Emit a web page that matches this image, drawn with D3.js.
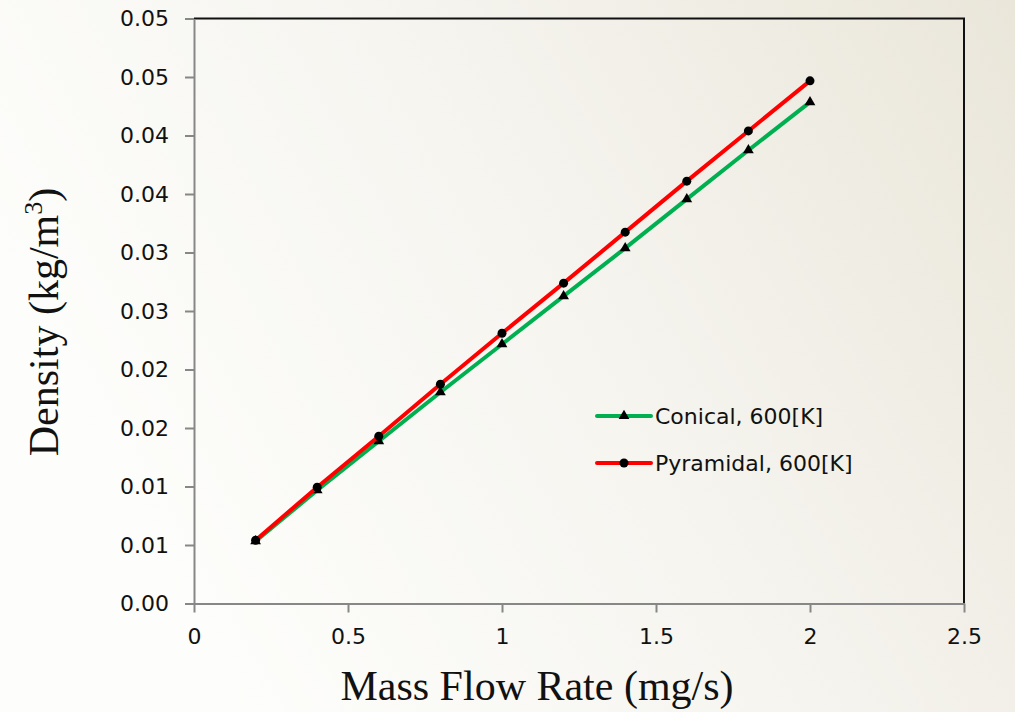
<!DOCTYPE html>
<html>
<head>
<meta charset="utf-8">
<script src="https://cdn.jsdelivr.net/npm/d3@7"></script>
<style>
  html, body { margin: 0; padding: 0; }
  body { width: 1015px; height: 712px; overflow: hidden; }
</style>
</head>
<body>
<svg id="chart" width="1015" height="712"></svg>
<script>
// data
let massFlow = [0.2, 0.4, 0.6, 0.8, 1.0, 1.2, 1.4, 1.6, 1.8, 2.0];
let conical = [0.00532, 0.00968, 0.01387, 0.01806, 0.02216, 0.02627, 0.03037, 0.03456, 0.03874, 0.04285];
let pyramidal = [0.00541, 0.00994, 0.0143, 0.01874, 0.0231, 0.02738, 0.03174, 0.0361, 0.04039, 0.04467];
let yTicks = [0, 0.005, 0.01, 0.015, 0.02, 0.025, 0.03, 0.035, 0.04, 0.045, 0.05];
let yTickLabels = ['0.00', '0.01', '0.01', '0.02', '0.02', '0.03', '0.03', '0.04', '0.04', '0.05', '0.05'];
let xTicks = [0, 0.5, 1, 1.5, 2, 2.5];
let xTickLabels = ['0', '0.5', '1', '1.5', '2', '2.5'];

let svg = d3.select('#chart');
let plotLeft = 194, plotRight = 964, plotTop = 18.5, plotBottom = 603.5;
let tickFont = '"DejaVu Sans", sans-serif';
let titleFont = '"Liberation Serif", "Times New Roman", serif';

// background gradient
let defs = svg.append('defs');
let grad = defs.append('linearGradient')
  .attr('id', 'bg')
  .attr('x1', '0%').attr('y1', '40%')
  .attr('x2', '100%').attr('y2', '0%');
grad.append('stop').attr('offset', '0%').attr('stop-color', '#fdfdfb');
grad.append('stop').attr('offset', '45%').attr('stop-color', '#f6f5f0');
grad.append('stop').attr('offset', '100%').attr('stop-color', '#eae6da');
svg.append('rect').attr('width', 1015).attr('height', 712).attr('fill', 'url(#bg)');

let x = d3.scaleLinear().domain([0, 2.5]).range([plotLeft, plotRight]);
let y = d3.scaleLinear().domain([0, 0.05]).range([plotBottom, plotTop]);

// top and right frame
svg.append('path')
  .attr('d', 'M' + plotLeft + ',' + plotTop + 'H' + plotRight + 'V' + plotBottom)
  .attr('fill', 'none')
  .attr('stroke', '#111')
  .attr('stroke-width', 2);

// y axis
let yAxis = svg.append('g')
  .attr('transform', 'translate(' + plotLeft + ',0)')
  .call(d3.axisLeft(y).tickValues(yTicks)
    .tickFormat(function (d, i) { return yTickLabels[i]; })
    .tickSize(9).tickPadding(16).tickSizeOuter(0));
yAxis.selectAll('line, path').attr('stroke', '#878787').attr('stroke-width', 2);
yAxis.selectAll('text')
  .attr('font-size', 22)
  .attr('font-family', tickFont)
  .attr('fill', '#111');

// x axis
let xAxis = svg.append('g')
  .attr('transform', 'translate(0,' + plotBottom + ')')
  .call(d3.axisBottom(x).tickValues(xTicks)
    .tickFormat(function (d, i) { return xTickLabels[i]; })
    .tickSize(9).tickPadding(16).tickSizeOuter(0));
xAxis.selectAll('line, path').attr('stroke', '#878787').attr('stroke-width', 2);
xAxis.selectAll('text')
  .attr('font-size', 22)
  .attr('font-family', tickFont)
  .attr('fill', '#111');

// axis titles
svg.append('text')
  .attr('x', 537)
  .attr('y', 700)
  .attr('text-anchor', 'middle')
  .attr('font-family', titleFont)
  .attr('font-size', 42)
  .attr('fill', '#111')
  .text('Mass Flow Rate (mg/s)');

let yTitle = svg.append('text')
  .attr('transform', 'translate(58,322) rotate(-90)')
  .attr('text-anchor', 'middle')
  .attr('font-family', titleFont)
  .attr('font-size', 42)
  .attr('fill', '#111');
yTitle.append('tspan').text('Density (kg/m');
yTitle.append('tspan').attr('font-size', 26).attr('dy', -16).text('3');
yTitle.append('tspan').attr('dy', 16).text(')');

// series
let series = [
  {name: 'Conical, 600[K]', values: conical, color: '#00b050', marker: 'triangle'},
  {name: 'Pyramidal, 600[K]', values: pyramidal, color: '#ff0000', marker: 'circle'}
];

let line = d3.line()
  .x(function (d) { return x(d[0]); })
  .y(function (d) { return y(d[1]); });

function drawMarker(g, type, cx, cy) {
  if (type === 'circle') {
    g.append('circle').attr('cx', cx).attr('cy', cy).attr('r', 4.5).attr('fill', '#000');
  } else {
    g.append('path')
      .attr('d', d3.symbol().type(d3.symbolTriangle).size(50)())
      .attr('transform', 'translate(' + cx + ',' + cy + ')')
      .attr('fill', '#000');
  }
}

for (let s of series) {
  let pts = massFlow.map(function (m, i) { return [m, s.values[i]]; });
  svg.append('path')
    .datum(pts)
    .attr('d', line)
    .attr('fill', 'none')
    .attr('stroke', s.color)
    .attr('stroke-width', 4);
  let g = svg.append('g');
  for (let p of pts) {
    drawMarker(g, s.marker, x(p[0]), y(p[1]));
  }
}

// legend
let lx = 597, ly = 416;
series.forEach(function (s, i) {
  let yy = ly + i * 47;
  svg.append('line')
    .attr('x1', lx).attr('x2', lx + 54)
    .attr('y1', yy).attr('y2', yy)
    .attr('stroke', s.color)
    .attr('stroke-width', 4)
    .attr('stroke-linecap', 'round');
  drawMarker(svg.append('g'), s.marker, lx + 27, yy);
  svg.append('text')
    .attr('x', lx + 58)
    .attr('y', yy + 8)
    .attr('font-size', 22)
    .attr('font-family', tickFont)
    .attr('fill', '#111')
    .text(s.name);
});
</script>
</body>
</html>
